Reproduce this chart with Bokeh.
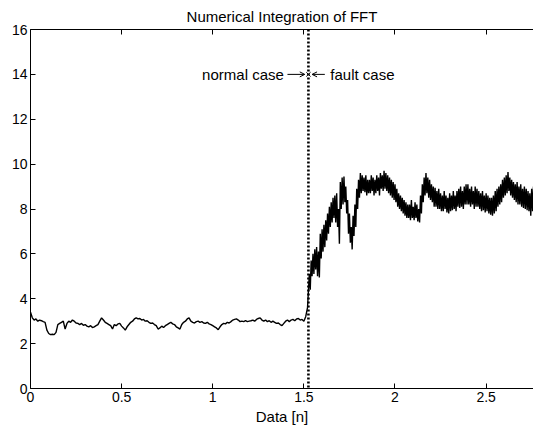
import numpy as np
from bokeh.plotting import figure
from bokeh.models import Range1d, LinearAxis, Label, Arrow, OpenHead, Span, CustomJSTickFormatter, Title
from bokeh.embed import file_html
from bokeh.resources import INLINE

# ---- data ----
x_ticks = [0, 0.5, 1, 1.5, 2, 2.5]
y_ticks = [0, 2, 4, 6, 8, 10, 12, 14, 16]

normal_x0 = 0.0
normal_step = 0.01
normal_y = [
    3.40, 3.15, 3.05, 3.10, 3.00, 3.05, 3.02, 2.98, 2.95, 2.60,
    2.45, 2.40, 2.42, 2.40, 2.50, 2.85, 2.90, 2.95, 3.00, 2.65,
    2.90, 3.00, 2.95, 3.05, 3.00, 2.92, 2.90, 2.85, 2.90, 2.82,
    2.85, 2.78, 2.75, 2.80, 2.72, 2.75, 2.80, 2.85, 3.00, 3.15,
    3.05, 2.95, 2.90, 2.85, 2.80, 2.65, 2.85, 2.80, 2.88, 2.90,
    2.78, 2.70, 2.60, 2.75, 2.85, 2.95, 3.00, 3.10, 3.15, 3.10,
    3.12, 3.05, 3.08, 3.00, 3.02, 2.95, 2.90, 2.92, 2.85, 2.80,
    2.65, 2.70, 2.78, 2.72, 2.80, 2.85, 2.90, 2.95, 2.88, 2.85,
    2.75, 2.70, 2.65, 2.85, 2.95, 3.00, 3.10, 3.15, 3.00, 2.95,
    2.92, 2.98, 3.00, 2.95, 2.98, 2.92, 2.90, 2.95, 2.88, 2.85,
    2.80, 2.75, 2.70, 2.62, 2.75, 2.85, 2.90, 2.88, 2.95, 2.92,
    2.98, 3.05, 3.08, 3.10, 3.05, 2.98, 3.00, 2.98, 3.02, 2.98,
    3.00, 3.02, 3.05, 3.00, 3.08, 3.12, 3.15, 3.05, 3.00, 3.05,
    2.98, 3.02, 2.95, 3.00, 2.95, 2.90, 2.92, 2.85, 2.80, 2.90,
    3.00, 3.05, 2.98, 3.05, 3.08, 3.02, 3.10, 3.12, 3.05, 3.08,
    3.00, 3.20, 3.60,
]

fault_x0 = 1.53
fault_step = 0.01
fault_hi = [
    5.1, 5.7, 6.0, 6.2, 6.3, 6.1, 6.9, 7.1, 7.3, 7.5,
    7.8, 8.1, 8.3, 8.5, 8.6, 8.7, 8.0, 9.2, 9.4, 9.45,
    9.0, 8.4, 7.8, 7.2, 7.7, 8.2, 8.9, 9.3, 9.6, 9.5,
    9.4, 9.5, 9.3, 9.3, 9.5, 9.4, 9.3, 9.5, 9.4, 9.6,
    9.5, 9.7, 9.6, 9.5, 9.4, 9.3, 9.2, 9.1, 8.9, 8.7,
    8.6, 8.5, 8.4, 8.3, 8.2, 8.2, 8.4, 8.1, 8.3, 8.2,
    8.0, 8.6, 9.1, 9.4, 9.6, 9.4, 9.3, 9.1, 9.0, 8.95,
    8.8, 8.9, 8.7, 8.6, 8.8, 8.6, 8.5, 8.7, 8.6, 8.8,
    8.6, 8.8, 8.9, 9.0, 8.8, 9.0, 9.1, 9.1, 8.9, 9.0,
    8.8, 9.0, 8.9, 8.8, 8.7, 8.8, 8.6, 8.7, 8.6, 8.5,
    8.5, 8.6, 8.8, 8.9, 9.0, 9.1, 9.3, 9.4, 9.5, 9.65,
    9.4, 9.3, 9.2, 9.1, 9.2, 9.0, 9.1, 8.9, 9.0, 8.9,
    8.8, 8.7, 8.9, 9.0, 8.9,
]
fault_lo = [
    4.4, 5.0, 5.1, 5.3, 5.0, 4.95, 5.8, 6.1, 6.3, 6.6,
    6.9, 7.2, 7.4, 7.6, 7.4, 7.2, 6.45, 8.0, 8.2, 8.3,
    7.8, 6.9, 6.5, 6.2, 6.8, 7.2, 8.0, 8.5, 8.7, 8.8,
    8.75, 8.6, 8.7, 8.7, 8.8, 8.6, 8.7, 8.8, 8.6, 8.9,
    8.8, 8.9, 8.8, 8.7, 8.6, 8.5, 8.4, 8.3, 8.1, 8.0,
    7.9, 7.8, 7.7, 7.6, 7.6, 7.5, 7.6, 7.5, 7.6, 7.45,
    7.4, 7.8, 8.3, 8.6, 8.7, 8.5, 8.4, 8.3, 8.1, 8.1,
    8.0, 8.0, 7.9, 7.9, 8.0, 7.85, 7.8, 7.9, 7.95, 8.0,
    7.9, 8.1, 8.05, 8.1, 8.0, 8.2, 8.2, 8.2, 8.1, 8.2,
    8.0, 8.1, 8.1, 8.0, 7.9, 7.95, 7.85, 7.9, 7.8, 7.75,
    7.7, 7.8, 7.9, 8.1, 8.2, 8.3, 8.5, 8.6, 8.7, 8.8,
    8.6, 8.5, 8.4, 8.3, 8.2, 8.2, 8.1, 8.05, 8.0, 7.95,
    7.9, 7.7, 7.9, 8.0, 8.1,
]

fault_onset = 1.525
annot_y = 14.0

# ---- build the trace (normal part, then hi/lo zigzag for the noisy part) ----
xs, ys = [], []
for i, v in enumerate(normal_y):
    xs.append(normal_x0 + i * normal_step)
    ys.append(v)
for i, (h, l) in enumerate(zip(fault_hi, fault_lo)):
    x = fault_x0 + i * fault_step
    xs += [x, x + fault_step / 2]
    ys += [h, l]

FONT = "Liberation Sans"

p = figure(width=533, height=426, x_range=Range1d(0, 2.76), y_range=Range1d(0, 16),
           output_backend="svg", toolbar_location=None,
           min_border_left=30, min_border_right=0, min_border_top=29, min_border_bottom=38)
p.background_fill_color = "white"
p.border_fill_color = "white"
p.outline_line_color = None
p.grid.visible = False

for ax in (p.xaxis[0], p.yaxis[0]):
    ax.major_tick_in = 5
    ax.major_tick_out = 0
    ax.minor_tick_line_color = None
    ax.axis_line_color = "black"
    ax.major_tick_line_color = "black"
    ax.major_label_text_font = FONT
    ax.major_label_text_font_size = "14px"
    ax.major_label_text_color = "black"
    ax.major_label_standoff = 3
p.xaxis[0].ticker = x_ticks
p.yaxis[0].ticker = y_ticks

top = LinearAxis(ticker=x_ticks, major_tick_in=5, major_tick_out=0,
                 minor_tick_line_color=None,
                 formatter=CustomJSTickFormatter(code="return ''"),
                 major_label_text_font_size="1px", major_label_standoff=0)
p.add_layout(top, "above")

p.line(xs, ys, line_color="black", line_width=1.4)

p.add_layout(Span(location=fault_onset, dimension="height", line_color="black",
                  line_width=2.6, line_dash="2 2"))

p.scatter([fault_onset], [annot_y], marker="x", size=6, line_color="black", line_width=1)
p.add_layout(Arrow(x_start=1.41, y_start=annot_y, x_end=1.505, y_end=annot_y,
                   line_width=1, end=OpenHead(size=5, line_width=1)))
p.add_layout(Arrow(x_start=1.615, y_start=annot_y, x_end=1.545, y_end=annot_y,
                   line_width=1, end=OpenHead(size=5, line_width=1)))
p.add_layout(Label(x=1.39, y=annot_y, text="normal case", text_align="right",
                   text_baseline="middle", text_font=FONT, text_font_size="15px",
                   text_color="black"))
p.add_layout(Label(x=1.645, y=annot_y, text="fault case", text_align="left",
                   text_baseline="middle", text_font=FONT, text_font_size="15px",
                   text_color="black"))

p.add_layout(Title(text="Numerical Integration of FFT", align="center", offset=21,
                   text_font=FONT, text_font_size="15px", text_font_style="normal",
                   text_color="black", standoff=10), "above")
p.add_layout(Title(text="Data [n]", align="center", offset=21,
                   text_font=FONT, text_font_size="15px", text_font_style="normal",
                   text_color="black", standoff=2), "below")

open("out.html", "w").write(file_html(p, INLINE))
